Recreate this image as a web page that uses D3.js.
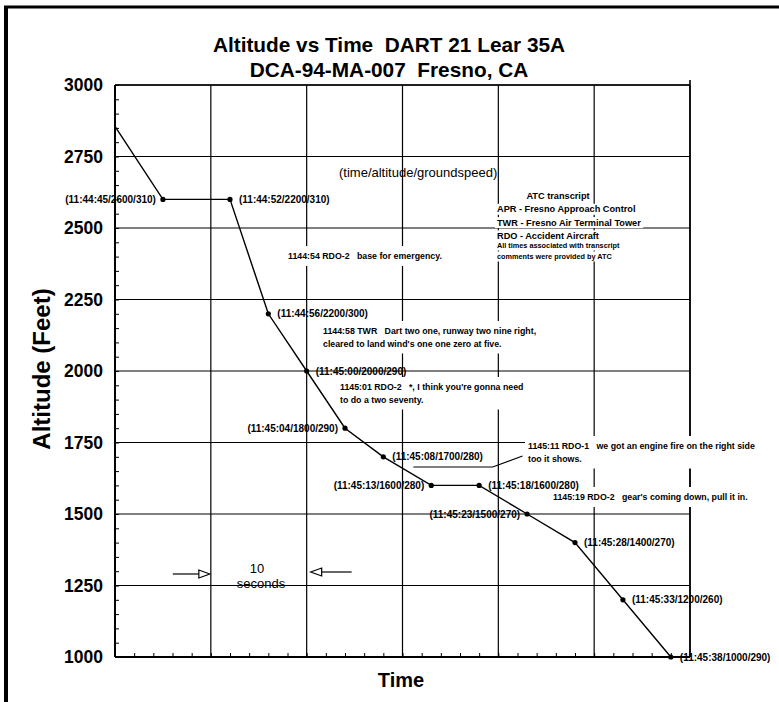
<!DOCTYPE html>
<html>
<head>
<meta charset="utf-8">
<script src="https://cdn.jsdelivr.net/npm/d3@7"></script>
<style>
  html, body { margin: 0; padding: 0; background: #fff; }
  svg { display: block; font-family: "Liberation Sans", Arial, sans-serif; }
  text { white-space: pre; }
</style>
</head>
<body>
<svg id="chart" width="779" height="702"></svg>
<script>
// ---------------- data ----------------
const titleLines = ["Altitude vs Time  DART 21 Lear 35A", "DCA-94-MA-007  Fresno, CA"];
const yTicks = [1000, 1250, 1500, 1750, 2000, 2250, 2500, 2750, 3000];
const timeDomain = ["11:44:40", "11:45:40"];
// track entering the frame (no marker) followed by recorded points
const entryTime = "11:44:40";
const entryAltitude = 2855;
const times = ["11:44:45", "11:44:52", "11:44:56", "11:45:00", "11:45:04", "11:45:08",
               "11:45:13", "11:45:18", "11:45:23", "11:45:28", "11:45:33", "11:45:38"];
const altitudes = [2600, 2600, 2200, 2000, 1800, 1700, 1600, 1600, 1500, 1400, 1200, 1000];
const groundspeeds = [310, 310, 300, 290, 290, 280, 280, 280, 270, 270, 260, 290];
const pointLabels = ["(11:44:45/2600/310)", "(11:44:52/2200/310)", "(11:44:56/2200/300)",
                     "(11:45:00/2000/290)", "(11:45:04/1800/290)", "(11:45:08/1700/280)",
                     "(11:45:13/1600/280)", "(11:45:18/1600/280)", "(11:45:23/1500/270)",
                     "(11:45:28/1400/270)", "(11:45:33/1200/260)", "(11:45:38/1000/290)"];
const transcript = [
  ["1144:54 RDO-2   base for emergency."],
  ["1144:58 TWR   Dart two one, runway two nine right,", "cleared to land wind's one one zero at five."],
  ["1145:01 RDO-2   *, I think you're gonna need", "to do a two seventy."],
  ["1145:11 RDO-1   we got an engine fire on the right side", "too it shows."],
  ["1145:19 RDO-2   gear's coming down, pull it in."]
];
const atcLegend = ["ATC transcript", "APR - Fresno Approach Control", "TWR - Fresno Air Terminal Tower", "RDO - Accident Aircraft"];
const atcNote = ["All times associated with transcript", "comments were provided by ATC"];

// ---------------- helpers ----------------
const toSec = s => { const [h, m, sec] = s.split(":").map(Number); return h * 3600 + m * 60 + sec; };

const svg = d3.select("#chart");
const W = 779, H = 702;
const pL = 115, pR = 690, pT = 85, pB = 657;

const x = d3.scaleLinear().domain(timeDomain.map(toSec)).range([pL, pR]);
const y = d3.scaleLinear().domain([1000, 3000]).range([pB, pT]);

svg.append("rect").attr("width", W).attr("height", H).attr("fill", "#fff");

// page frame (top & left)
svg.append("line").attr("x1", 4).attr("x2", W).attr("y1", 7).attr("y2", 7).attr("stroke", "#000").attr("stroke-width", 3);
svg.append("line").attr("x1", 6).attr("x2", 6).attr("y1", 6).attr("y2", H).attr("stroke", "#000").attr("stroke-width", 4);

// title
svg.selectAll("text.title").data(titleLines).join("text")
  .attr("x", 389).attr("y", (d, i) => 52 + i * 25)
  .attr("text-anchor", "middle").attr("font-weight", "bold").attr("font-size", 20.8)
  .text(d => d);

// grid
const g = svg.append("g");
const xGrid = d3.range(toSec(timeDomain[0]), toSec(timeDomain[1]) + 1, 10);
g.selectAll("line.vg").data(xGrid).join("line")
  .attr("x1", d => x(d)).attr("x2", d => x(d)).attr("y1", pT).attr("y2", pB)
  .attr("stroke", "#000").attr("stroke-width", 1.2);
g.selectAll("line.hg").data(yTicks).join("line")
  .attr("x1", pL).attr("x2", pR).attr("y1", d => y(d)).attr("y2", d => y(d))
  .attr("stroke", "#000").attr("stroke-width", 1.1);

// axes with minor ticks
const yAxis = d3.axisRight(y).tickValues(d3.range(1000, 3001, 50)).tickSize(4).tickFormat("");
const ya = svg.append("g").attr("transform", `translate(${pL},0)`).call(yAxis);
ya.select(".domain").attr("stroke-width", 2).attr("d", `M0,${pT}V${pB}`);
const xAxis = d3.axisTop(x).tickValues(d3.range(toSec(timeDomain[0]), toSec(timeDomain[1]) + 1, 2)).tickSize(4).tickFormat("");
const xa = svg.append("g").attr("transform", `translate(0,${pB})`).call(xAxis);
xa.select(".domain").attr("stroke-width", 2).attr("d", `M${pL},0H${pR}`);
svg.append("line").attr("x1", pL).attr("x2", pR).attr("y1", pT).attr("y2", pT).attr("stroke", "#000").attr("stroke-width", 1.6);
svg.append("line").attr("x1", pR).attr("x2", pR).attr("y1", pT - 5).attr("y2", pB).attr("stroke", "#000").attr("stroke-width", 1.6);

// y tick labels
svg.selectAll("text.ytl").data(yTicks).join("text")
  .attr("x", pL - 12).attr("y", d => y(d)).attr("dy", "0.36em")
  .attr("text-anchor", "end").attr("font-weight", "bold").attr("font-size", 17.5)
  .text(d => d);

// axis titles
svg.append("text").attr("transform", `translate(50,369) rotate(-90)`)
  .attr("text-anchor", "middle").attr("font-weight", "bold").attr("font-size", 24)
  .text("Altitude (Feet)");
svg.append("text").attr("x", 401).attr("y", 687)
  .attr("text-anchor", "middle").attr("font-weight", "bold").attr("font-size", 20)
  .text("Time");

// annotation block helper (white backing hides grid behind text)
function textBlock(parent, lines, x0, y0, lh, size, weight, anchor, pad) {
  const grp = parent.append("g");
  const bg = grp.append("rect").attr("fill", "#fff");
  grp.selectAll("text").data(lines).join("text")
    .attr("x", x0).attr("y", (d, i) => y0 + i * lh)
    .attr("font-size", size).attr("font-weight", weight).attr("text-anchor", anchor)
    .text(d => d);
  const bb = grp.node().getBBox();
  bg.attr("x", bb.x - pad[0]).attr("y", bb.y - pad[1]).attr("width", bb.width + 2 * pad[0]).attr("height", bb.height + 2 * pad[1]);
  return grp;
}

// (time/altitude/groundspeed)
svg.append("text").attr("x", 339).attr("y", 177).attr("font-size", 13).text("(time/altitude/groundspeed)");

// ATC legend block
const atc = svg.append("g");
atcLegend.forEach((d, i) => {
  const isHead = i === 0;
  textBlock(atc, [d], isHead ? 558 : 497, 199 + i * 13.3, 13, 9.2, "bold", isHead ? "middle" : "start", [2, 0.5]);
});
atcNote.forEach((d, i) => {
  textBlock(atc, [d], 497, 248 + i * 11, 11, 7.3, "bold", "start", [2, 0.5]);
});

// transcript comments
const tPos = [[288, 259], [323, 334], [340, 390], [528, 449], [553, 500]];
transcript.forEach((lines, i) => {
  textBlock(svg, lines, tPos[i][0], tPos[i][1], 12.5, 8.8, "bold", "start", [3, 5]);
});
// leader line for engine fire comment
svg.append("path")
  .attr("d", d3.line()([[x(toSec("11:45:08")) + 30, 467], [x(toSec("11:45:19")) + 4, 467], [x(toSec("11:45:22")) + 5, 456]]))
  .attr("fill", "none").attr("stroke", "#000").attr("stroke-width", 1.1);

// 10 seconds marker
const s10a = toSec("11:44:50"), s10b = toSec("11:45:00");
svg.append("text").attr("x", 257).attr("y", 573).attr("text-anchor", "middle").attr("font-size", 13).text("10");
svg.append("text").attr("x", 261).attr("y", 588).attr("text-anchor", "middle").attr("font-size", 13).text("seconds");
function arrow(x1, x2, yy) {
  const dir = Math.sign(x2 - x1);
  svg.append("line").attr("x1", x1).attr("x2", x2 - dir * 11).attr("y1", yy).attr("y2", yy).attr("stroke", "#000").attr("stroke-width", 1.2);
  svg.append("path").attr("d", `M${x2},${yy}L${x2 - dir * 11},${yy - 4}L${x2 - dir * 11},${yy + 4}Z`)
    .attr("fill", "#fff").attr("stroke", "#000").attr("stroke-width", 1.2);
}
arrow(x(s10a) - 38, x(s10a) - 1, 574);
arrow(x(s10b) + 45, x(s10b) + 4, 572);

// altitude track
const track = [[toSec(entryTime), entryAltitude]].concat(times.map((t, i) => [toSec(t), altitudes[i]]));
svg.append("path")
  .attr("d", d3.line().x(d => x(d[0])).y(d => y(d[1]))(track))
  .attr("fill", "none").attr("stroke", "#000").attr("stroke-width", 1.4);
svg.selectAll("circle.pt").data(times).join("circle")
  .attr("cx", d => x(toSec(d))).attr("cy", (d, i) => y(altitudes[i])).attr("r", 2.6).attr("fill", "#000");

// point labels
const leftSide = new Set(["11:44:45", "11:45:04", "11:45:13", "11:45:23"]);
svg.selectAll("text.pl").data(times).join("text")
  .attr("x", d => x(toSec(d)) + (leftSide.has(d) ? -7 : 9))
  .attr("y", (d, i) => y(altitudes[i])).attr("dy", "0.35em")
  .attr("text-anchor", d => leftSide.has(d) ? "end" : "start")
  .attr("font-size", 10).attr("font-weight", "bold")
  .text((d, i) => pointLabels[i]);
</script>
</body>
</html>
